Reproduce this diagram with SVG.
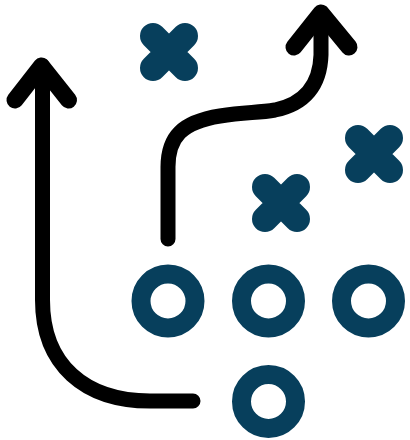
<svg xmlns="http://www.w3.org/2000/svg" width="410" height="440" viewBox="0 0 410 440">
<style>
.c{fill:none;stroke:#073f5c;stroke-width:19}
.x{fill:none;stroke:#073f5c;stroke-width:26;stroke-linecap:round}
.p{fill:none;stroke:#000;stroke-width:15;stroke-linecap:round;stroke-linejoin:round}
.h{stroke-width:17}
</style>
<defs>
<path id="cross" class="x" d="M-16 -16L16 16M16 -16L-16 16"/>
</defs>
<rect width="410" height="440" fill="#fff"/>
<g id="connectors">
<path class="p" d="M193 401H150C85 401 42.500 365 42.500 300V66"/>
<path class="p h" d="M15 100L41.500 66L68.500 100"/>
<path class="p" d="M168 239V167C168 137 182 122 220 116C245 112 258 113 275 110C305 104 320 85 321 55V14"/>
<path class="p h" d="M294 47L321 13L349 47"/>
</g>
<g id="x1"><use href="#cross" x="169" y="52"/></g>
<g id="x2"><use href="#cross" x="374" y="154"/></g>
<g id="x3"><use href="#cross" x="281" y="203"/></g>
<g id="o1"><circle class="c" cx="168" cy="301" r="27"/></g>
<g id="o2"><circle class="c" cx="268.500" cy="301" r="27"/></g>
<g id="o3"><circle class="c" cx="368.500" cy="301" r="27"/></g>
<g id="o4"><circle class="c" cx="268.500" cy="401.500" r="27"/></g>
</svg>
